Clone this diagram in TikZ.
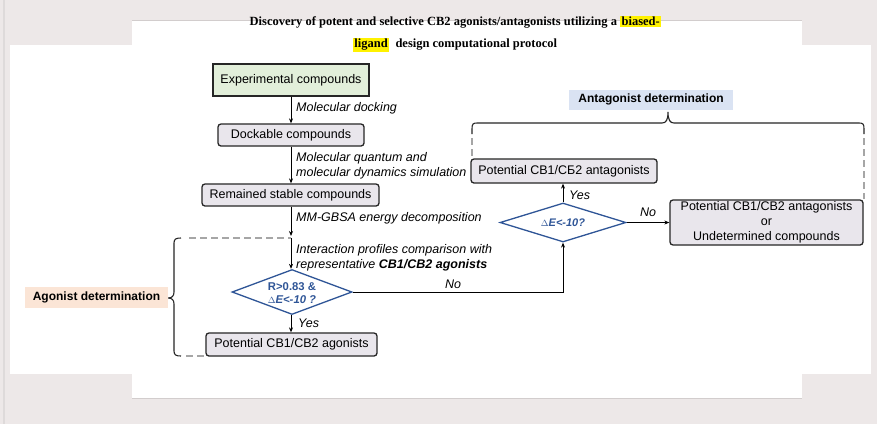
\documentclass[tikz,border=0pt]{standalone}
\usepackage{fontspec}
\setmainfont{Liberation Sans}
\newfontfamily\titlefont{Liberation Serif}
\usetikzlibrary{shapes.geometric,arrows.meta}
\definecolor{bgc}{HTML}{EDE8E8}
\definecolor{stripc}{HTML}{DEDADA}
\definecolor{edgec}{HTML}{D2CDCD}
\definecolor{boxline}{HTML}{262626}
\definecolor{boxfill}{HTML}{E9E6EC}
\definecolor{greenfill}{HTML}{E2EFDA}
\definecolor{dblue}{HTML}{2F5597}
\definecolor{bluefill}{HTML}{DAE3F3}
\definecolor{peach}{HTML}{FBE5D6}
\definecolor{dashgray}{HTML}{A6A6A6}
\newcommand{\hlt}[1]{{\setlength{\fboxsep}{1.5pt}\colorbox{yellow}{#1}}}
\tikzset{
  box/.style={draw=boxline, line width=1.3pt, fill=boxfill, rounded corners=3pt, inner sep=0pt, align=center},
  lab/.style={font=\fontsize{12.5}{15.5}\selectfont\itshape, anchor=west, inner sep=0pt, align=left},
  arr/.style={-{Stealth[length=5pt,width=4pt]}, line width=0.8pt, draw=black},
  dia/.style={diamond, draw=dblue, line width=1.3pt, inner sep=0pt, fill=white},
  dtext/.style={text=dblue, font=\fontsize{11.3}{13.5}\selectfont\bfseries, align=center, inner sep=0pt},
  gdash/.style={draw=dashgray, line width=1.5pt, dash pattern=on 7pt off 4pt},
  brace/.style={draw=boxline, line width=1.1pt},
  tag/.style={font=\fontsize{12}{14}\selectfont\bfseries, inner sep=0pt}
}
\begin{document}
\begin{tikzpicture}[x=1pt,y=-1pt, font=\fontsize{12.5}{15}\selectfont]
\useasboundingbox (0,0) rectangle (877,424);
% background
\fill[bgc] (0,0) rectangle (877,424);
\fill[stripc] (2.5,0) rectangle (4.5,424);
\fill[white] (132,20) rectangle (802,398);
\draw[edgec, line width=0.8pt] (132,20) -- (802,20);
\draw[edgec, line width=0.8pt] (132,398) -- (802,398);
\fill[white] (10,45) rectangle (871,374);

% title
\node[font=\titlefont\fontsize{12.5}{14}\selectfont\bfseries, inner sep=0pt] (t1) at (455.5,22)
  {Discovery of potent and selective CB2 agonists/antagonists utilizing a \hlt{biased-}};
\node[font=\titlefont\fontsize{12.5}{14}\selectfont\bfseries, inner sep=0pt] (t2) at (455,45)
  {\hlt{ligand}\ \ design computational protocol};

% main column
\node[box, rounded corners=0pt, fill=greenfill, minimum width=156pt, minimum height=32pt] (exp) at (291,80) {Experimental compounds};
\node[box, minimum width=146pt, minimum height=22pt] (dock) at (291,135) {Dockable compounds};
\node[box, minimum width=177pt, minimum height=22pt] (stab) at (290.5,195) {Remained stable compounds};
\node[dia, minimum width=120pt, minimum height=45pt] (d1) at (292,292) {};
\node[dtext] (d1t) at (292,293) {R>0.83 \&\\{\fontsize{9.5}{11}\selectfont\mdseries$\Delta$}\textit{E<-10 ?}};
\node[box, minimum width=171pt, minimum height=23pt] (agon) at (291.5,344.5) {Potential CB1/CB2 agonists};

% right side
\node[dia, minimum width=126pt, minimum height=39pt] (d2) at (563,222.5) {};
\node[dtext, font=\fontsize{11}{13}\selectfont\bfseries] (d2t) at (563,223) {{\fontsize{9.5}{11}\selectfont\mdseries$\Delta$}\textit{E<-10?}};
\node[box, minimum width=186pt, minimum height=24pt] (ant) at (564,171) {Potential CB1/CБ2 antagonists};
\node[box, minimum width=193pt, minimum height=45pt, font=\fontsize{12.5}{14.8}\selectfont] (und) at (766.5,222.5) {Potential CB1/CB2 antagonists\\or\\Undetermined compounds};

% coordinates
\coordinate (m1) at (291,236);
\coordinate (m2) at (291,238);

% connectors
\draw[arr] (exp.south) -- (dock.north);
\draw[arr] ([xshift=0.5pt]stab.north |- dock.south) -- ([xshift=0.5pt]stab.north);
\draw[arr] ([xshift=0.5pt]stab.south) -- (m1);
\draw[arr] (m2) -- (d1.north -| m2);
\draw[arr] (d1.south -| m2) -- (agon.north -| m2);
\draw[arr] (d1.east) -| (d2.south);
\draw[arr] (d2.north) -- (ant.south -| d2.north);
\draw[arr] (d2.east) -- (und.west |- d2.east);

% labels
\node[lab] (l1) at (296,108) {Molecular docking};
\node[lab] (l2) at (296,166) {Molecular quantum and\\molecular dynamics simulation};
\node[lab] (l3) at (296,218) {MM-GBSA energy decomposition};
\node[lab, font=\fontsize{12.5}{15}\selectfont\itshape] (l4) at (296,257.5) {Interaction profiles comparison with\\representative \textbf{CB1/CB2 agonists}};
\node[lab] (y1) at (298,323) {Yes};
\node[lab] (n1) at (445,284) {No};
\node[lab] (y2) at (569,195) {Yes};
\node[lab] (n2) at (640,212.5) {No};

% agonist brace
\draw[brace] (181,238) .. controls (176,238) and (174,239) .. (174,243) -- (174,292)
  .. controls (174,296) and (172,298) .. (168,298)
  .. controls (172,298) and (174,300) .. (174,304) -- (174,351)
  .. controls (174,355) and (176,356) .. (181,356);
\draw[gdash] (189,238) -- (m2);
\draw[gdash] (186,356) -- (agon.west |- 0,356);
\node[tag, fill=peach, minimum width=143pt, minimum height=21pt] (ag) at (96.5,297.5) {Agonist determination};

% antagonist brace
\draw[brace] (472,134) -- (472,129) .. controls (472,124) and (473,123) .. (477,123) -- (662,123)
  .. controls (666,123) and (668,120) .. (668,112)
  .. controls (668,120) and (670,123) .. (674,123) -- (859,123)
  .. controls (863,123) and (864,124) .. (864,129) -- (864,134);
\draw[gdash] (472,138) -- (ant.north west -| 472,0);
\draw[gdash] (864,138) -- (und.north east -| 864,0);
\node[tag, fill=bluefill, minimum width=164pt, minimum height=20pt] (an) at (651,99.5) {Antagonist determination};
\end{tikzpicture}
\end{document}
